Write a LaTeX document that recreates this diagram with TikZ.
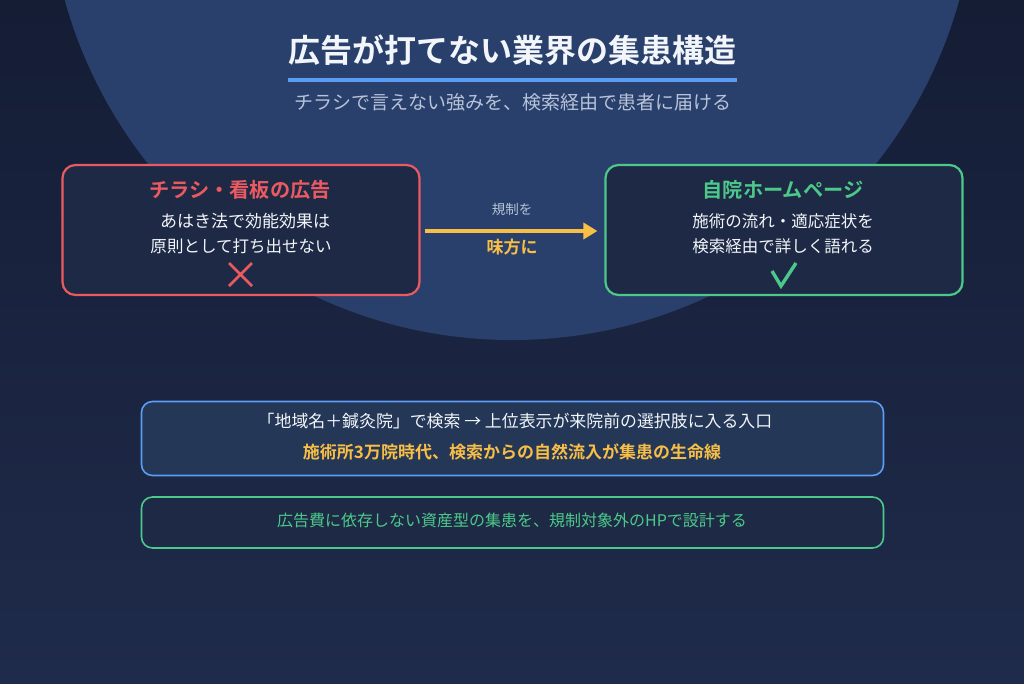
\documentclass[tikz,border=0pt]{standalone}
\usepackage{fontspec}
\setmainfont{Noto Sans CJK JP}[BoldFont={Noto Sans CJK JP Bold}]
\usetikzlibrary{arrows.meta}
\definecolor{bgtop}{HTML}{151D35}
\definecolor{bgbot}{HTML}{1F2B4B}
\definecolor{circ}{HTML}{2A406C}
\definecolor{boxfill}{HTML}{1E2A45}
\definecolor{boxfillb}{HTML}{243757}
\definecolor{redc}{HTML}{EB5A61}
\definecolor{greenc}{HTML}{4CC98A}
\definecolor{bluec}{HTML}{5B9CF5}
\definecolor{yellowc}{HTML}{F8BE45}
\definecolor{subc}{HTML}{B7C3D8}
\definecolor{txtc}{HTML}{F2F5FA}
\tikzset{
  card/.style={draw, line width=2.2pt, rounded corners=13pt, inner sep=0pt},
  cardsm/.style={draw, line width=1.6pt, rounded corners=11pt, inner sep=0pt},
  txt/.style={inner sep=0pt, anchor=center, text=txtc},
}
\begin{document}
\begin{tikzpicture}[x=1pt,y=-1pt]
\useasboundingbox (0,0) rectangle (1024,683);
\shade[top color=bgtop, bottom color=bgbot] (0,0) rectangle (1024,683);
\begin{scope}
\clip (0,0) rectangle (1024,683);
\fill[circ] (512,-124) circle (464);
\end{scope}
% title
\node[txt, font=\bfseries\fontsize{32}{36}\selectfont] (title) at (512,50) {広告が打てない業界の集患構造};
\coordinate (ulA) at (288,80);
\coordinate (ulB) at (737,80);
\draw[bluec, line width=3.5pt] (ulA) -- (ulB);
\node[txt, text=subc, font=\fontsize{19}{22}\selectfont] (sub) at (513,102) {チラシで言えない強みを、検索経由で患者に届ける};
% left card
\node[card, draw=redc, fill=boxfill, minimum width=357pt, minimum height=130pt] (left) at (241,230) {};
\node[txt, text=redc, font=\bfseries\fontsize{20.2}{23}\selectfont] (lt) at (240,190) {チラシ・看板の広告};
\node[txt, font=\fontsize{17}{20}\selectfont] (l1) at (245,221) {あはき法で効能効果は};
\node[txt, font=\fontsize{16.5}{20}\selectfont] (l2) at (241,246) {原則として打ち出せない};
\coordinate (xa) at (229,263); \coordinate (xb) at (252,286);
\coordinate (xc) at (252,263); \coordinate (xd) at (229,286);
\draw[redc, line width=2.6pt] (xa) -- (xb) (xc) -- (xd);
% right card
\node[card, draw=greenc, fill=boxfill, minimum width=357pt, minimum height=130pt] (right) at (784,230) {};
\node[txt, text=greenc, font=\bfseries\fontsize{20.2}{23}\selectfont] (rt) at (783,190) {自院ホームページ};
\node[txt, font=\fontsize{16.5}{20}\selectfont] (r1) at (783,221) {施術の流れ・適応症状を};
\node[txt, font=\fontsize{16.5}{20}\selectfont] (r2) at (783,246) {検索経由で詳しく語れる};
\coordinate (ca) at (772,271); \coordinate (cb) at (781,286); \coordinate (cc) at (796,263);
\draw[greenc, line width=3.4pt] (ca) -- (cb) -- (cc);
% arrow
\draw[yellowc, line width=4.5pt, -{Triangle[length=14pt,width=16pt]}, shorten <=4pt, shorten >=7pt] (left.east |- 0,231) -- (right.west |- 0,231);
\node[txt, text=subc, font=\fontsize{13.5}{15}\selectfont] (above) at (512,209) {規制を};
\node[txt, text=yellowc, font=\bfseries\fontsize{17}{19}\selectfont] (below) at (512,247) {味方に};
% bottom cards
\node[cardsm, draw=bluec, fill=boxfillb, minimum width=742pt, minimum height=74pt] (b1) at (512.5,438.5) {};
\node[txt, font=\fontsize{16.9}{20}\selectfont] (b1t) at (515,421) {「地域名＋鍼灸院」で検索 → 上位表示が来院前の選択肢に入る入口};
\node[txt, text=yellowc, font=\bfseries\fontsize{17}{20}\selectfont] (b1y) at (512,452) {施術所3万院時代、検索からの自然流入が集患の生命線};
\node[cardsm, draw=greenc, fill=boxfill, minimum width=742pt, minimum height=51pt] (b2) at (512.5,522.5) {};
\node[txt, text=greenc, font=\fontsize{16}{19}\selectfont] (b2t) at (512,520) {広告費に依存しない資産型の集患を、規制対象外のHPで設計する};
\end{tikzpicture}
\end{document}
